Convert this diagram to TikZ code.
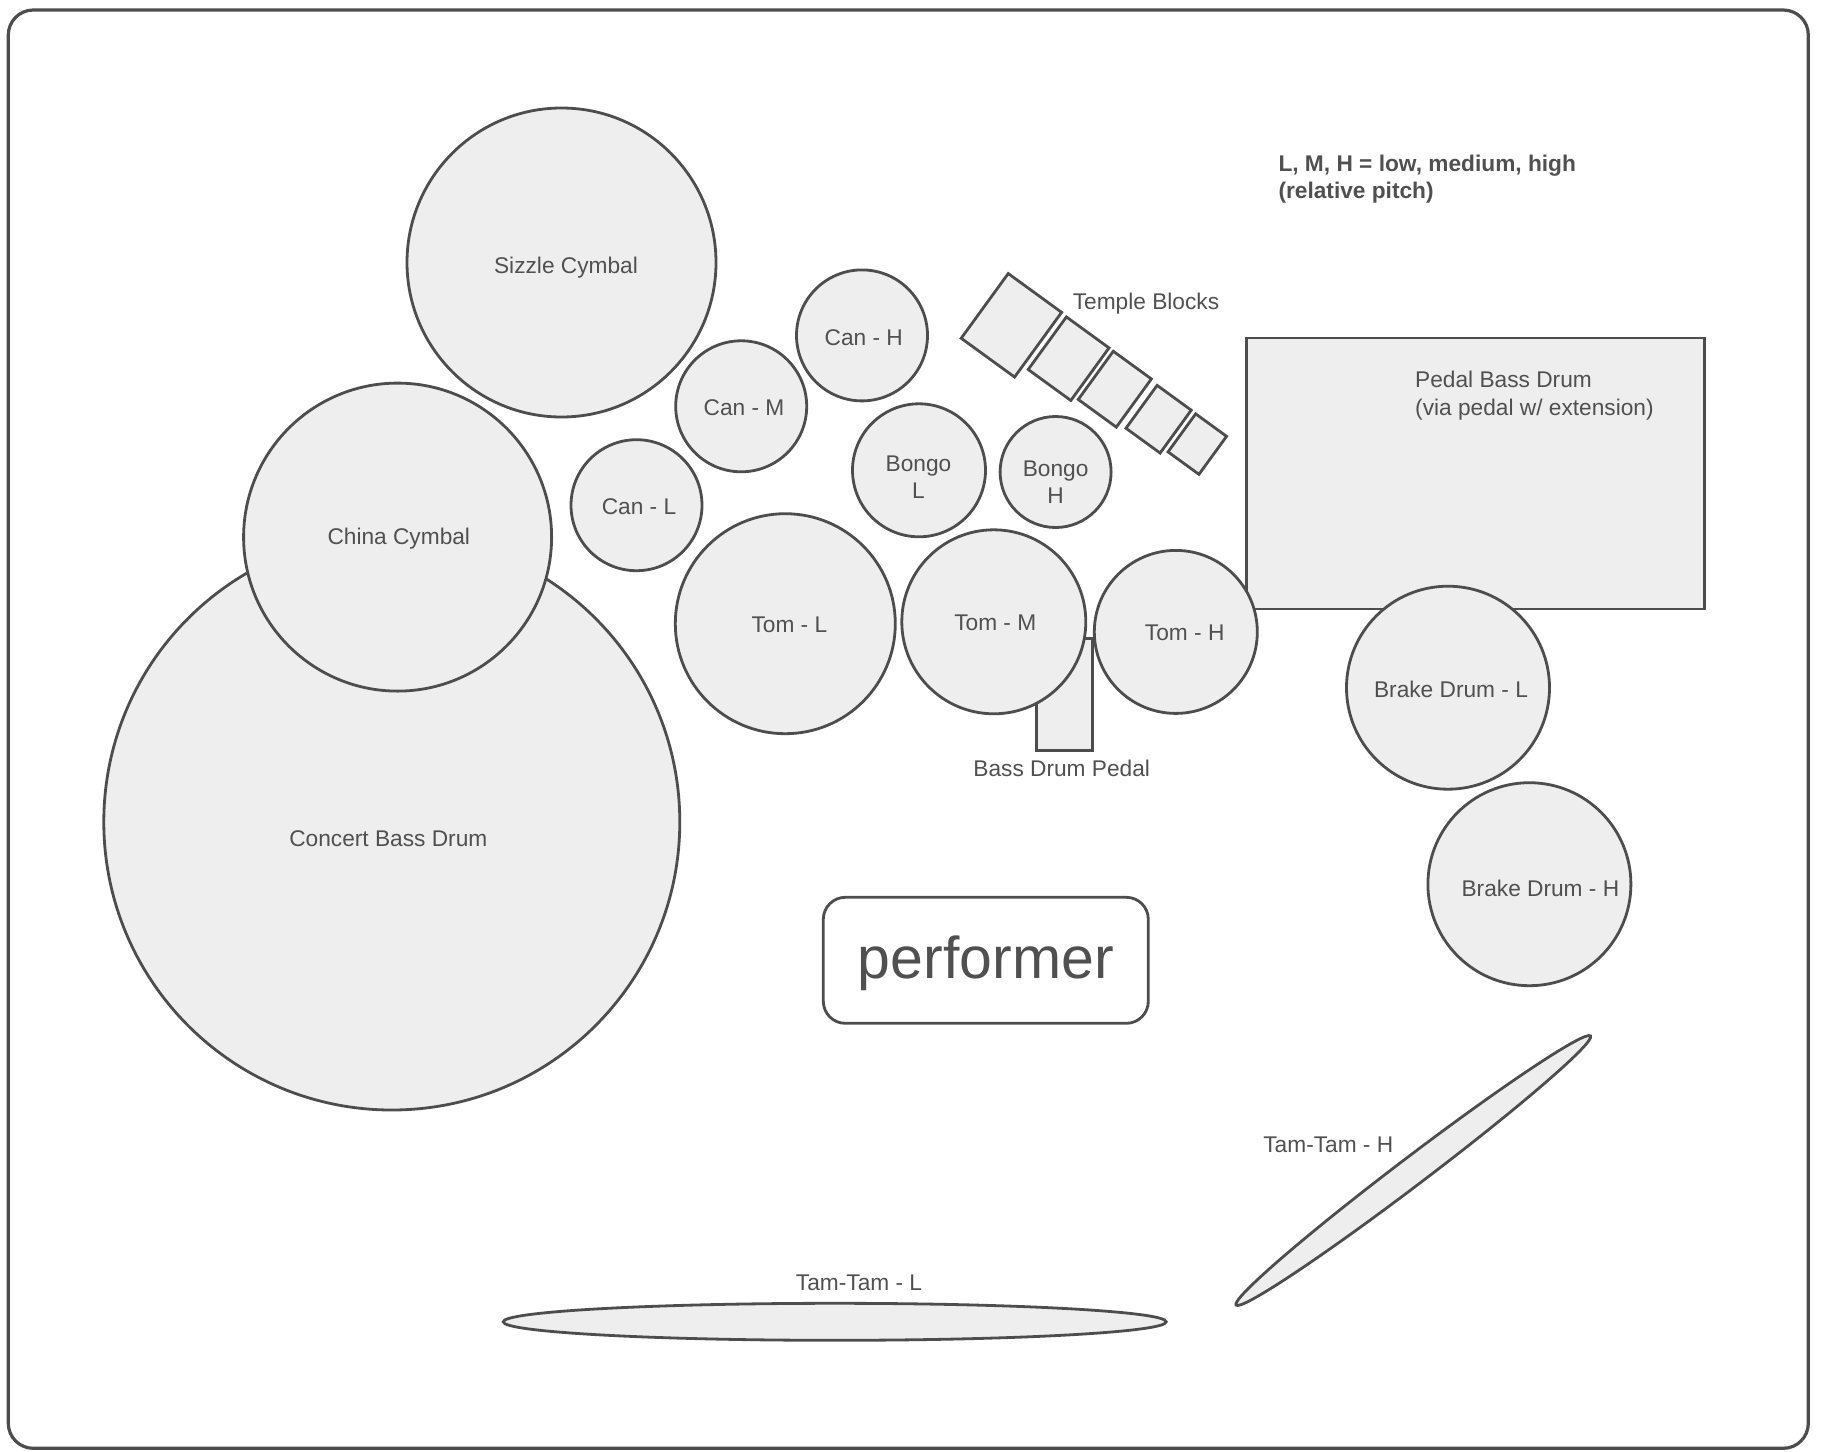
\documentclass[tikz,border=0pt]{standalone}
\usepackage{fontspec}
\setmainfont{Liberation Sans}
\usetikzlibrary{shapes.geometric}
\definecolor{lc}{RGB}{77,77,77}
\definecolor{fc}{RGB}{238,238,238}
\definecolor{tc}{RGB}{80,80,80}
\newcommand\lblfont{\fontsize{22.7}{27}\selectfont}
\tikzset{
  drum/.style={circle, draw=lc, fill=fc, line width=2.8pt, inner sep=0pt},
  box/.style={rectangle, draw=lc, fill=fc, line width=2.8pt, inner sep=0pt},
  tblock/.style={rectangle, draw=lc, fill=fc, line width=2.8pt, inner sep=0pt, rotate=-36},
  tam/.style={ellipse, draw=lc, fill=fc, line width=2.8pt, inner sep=0pt},
  lbl/.style={anchor=base, text=tc, font=\lblfont, inner sep=0pt},
  lbll/.style={anchor=base west, text=tc, font=\lblfont, inner sep=0pt},
}
\begin{document}
\begin{tikzpicture}[x=1pt, y=-1pt]
\useasboundingbox (0,0) rectangle (1823,1451);
% frame
\draw[draw=lc, line width=3.2pt, rounded corners=25pt] (8.3,10) rectangle (1808.3,1448.3);

% pedal bass drum box
\node[box, minimum width=458pt, minimum height=271pt, anchor=north west] (pbd) at (1245,336.5) {};
% bass drum pedal
\node[box, minimum width=56pt, minimum height=112pt, anchor=north west] (bdp) at (1035,637) {};

% drums and cymbals
\node[drum, minimum size=576pt] (cbd) at (391.8,822) {};
\node[drum, minimum size=308pt] (china) at (397.6,537.1) {};
\node[drum, minimum size=309pt] (sizzle) at (561.5,262.5) {};
\node[drum, minimum size=131pt] (canh) at (862,335.4) {};
\node[drum, minimum size=131pt] (canm) at (741.2,406.3) {};
\node[drum, minimum size=131pt] (canl) at (636.5,505.2) {};
\node[drum, minimum size=133pt] (bongol) at (919,470.3) {};
\node[drum, minimum size=111pt] (bongoh) at (1055.6,472) {};
\node[drum, minimum size=220pt] (toml) at (785.3,623.7) {};
\node[drum, minimum size=184pt] (tomm) at (993.8,621.8) {};
\node[drum, minimum size=163pt] (tomh) at (1175.8,631.9) {};
\node[drum, minimum size=203pt] (brakel) at (1448,687.7) {};
\node[drum, minimum size=203pt] (brakeh) at (1529.4,884.2) {};

% temple blocks
\node[tblock, minimum width=66pt, minimum height=80pt] (tb1) at (1011.4,325.3) {};
\node[tblock, minimum width=52.7pt, minimum height=65pt] (tb2) at (1068.6,358.7) {};
\node[tblock, minimum width=47.1pt, minimum height=59.6pt] (tb3) at (1114.8,389.2) {};
\node[tblock, minimum width=42.2pt, minimum height=53pt] (tb4) at (1158.6,419.2) {};
\node[tblock, minimum width=38.2pt, minimum height=47pt] (tb5) at (1197.3,444.1) {};

% tam-tams
\node[tam, minimum width=663pt, minimum height=37pt] (taml) at (834.7,1321.8) {};
\node[tam, minimum width=445pt, minimum height=28pt, rotate=37.2] (tamh) at (1413.3,1170.5) {};

% performer
\node[draw=lc, fill=white, line width=2.8pt, rounded corners=22pt, minimum width=325pt, minimum height=126pt, inner sep=0pt] (perf) at (985.8,960.3) {};
\node[anchor=base, text=tc, font=\fontsize{59}{70}\selectfont, inner sep=0pt] (perf-t) at (985.8,978.3) {performer};

% labels
\node[lbl] (sizzle-t) at (566,273) {Sizzle Cymbal};
\node[lbl] (china-t) at (398.8,544) {China Cymbal};
\node[lbl] (cbd-t) at (388.3,846) {Concert Bass Drum};
\node[lbl] (canh-t) at (863.8,345) {Can - H};
\node[lbl] (canm-t) at (744,415) {Can - M};
\node[lbl] (canl-t) at (639,514) {Can - L};
\node[lbl] (bongol-t1) at (918.5,471) {Bongo};
\node[lbl] (bongol-t2) at (918.5,498.6) {L};
\node[lbl] (bongoh-t1) at (1055.6,476.5) {Bongo};
\node[lbl] (bongoh-t2) at (1055.6,503.3) {H};
\node[lbl] (toml-t) at (789.4,632) {Tom - L};
\node[lbl] (tomm-t) at (995.3,630) {Tom - M};
\node[lbl] (tomh-t) at (1184.7,640.7) {Tom - H};
\node[lbl] (brakel-t) at (1451,697.5) {Brake Drum - L};
\node[lbl] (brakeh-t) at (1540.4,896) {Brake Drum - H};
\node[lbl] (tb-t) at (1146,309) {Temple Blocks};
\node[lbll] (pbd-t1) at (1415,387.3) {Pedal Bass Drum};
\node[lbll] (pbd-t2) at (1415,415) {(via pedal w/ extension)};
\node[lbl] (bdp-t) at (1061.7,776) {Bass Drum Pedal};
\node[lbl] (tamh-t) at (1328.3,1152.7) {Tam-Tam - H};
\node[lbl] (taml-t) at (859,1290) {Tam-Tam - L};
\node[lbll, font=\lblfont\bfseries] (legend1) at (1278.3,171.7) {L, M, H = low, medium, high};
\node[lbll, font=\lblfont\bfseries] (legend2) at (1278.3,198.3) {(relative pitch)};
\end{tikzpicture}
\end{document}
